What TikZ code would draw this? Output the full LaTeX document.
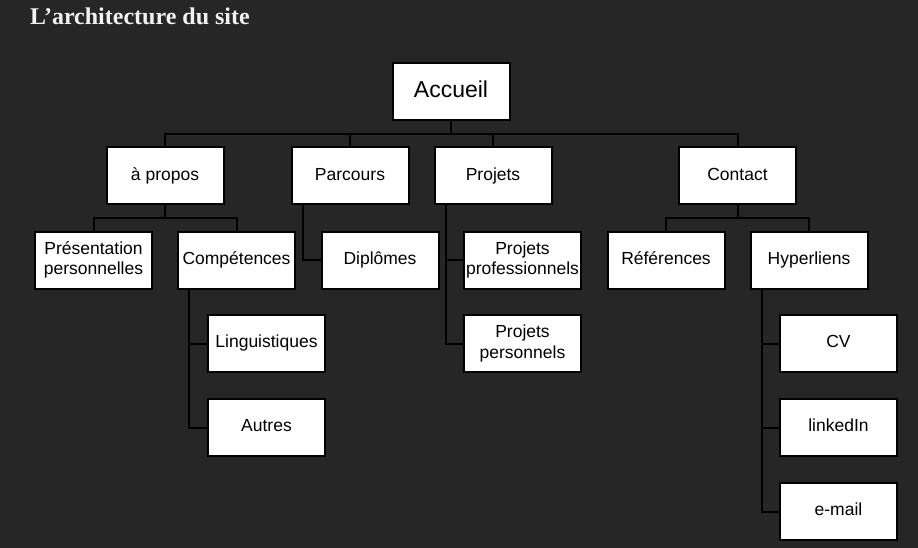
\documentclass[tikz,border=0pt]{standalone}
\usepackage{fontspec}
\setmainfont{Liberation Serif}
\newfontfamily\boxfont{Liberation Sans}
\usepackage{xcolor}
\usetikzlibrary{calc}
\definecolor{siteBack}{HTML}{262626}
\definecolor{siteLine}{HTML}{000000}
\definecolor{siteTitle}{HTML}{F2F2F2}
\tikzset{
  sitebox/.style={rectangle, draw=siteLine, fill=white, line width=2pt, align=center, font=\boxfont\fontsize{17.5}{20.7}\selectfont, minimum width=117pt, minimum height=57pt, inner sep=1pt},
  linebox/.style={sitebox, text height=12.5pt, text depth=3.7pt},
  rootbox/.style={sitebox, font=\boxfont\fontsize{23}{26}\selectfont, text height=16.5pt, text depth=4.8pt},
  sitelink/.style={draw=siteLine, line width=2pt, line cap=square},
  sitetitle/.style={font=\bfseries\fontsize{24}{27}\selectfont, text=siteTitle, anchor=base west, inner sep=0pt},
}

\begin{document}
\begin{tikzpicture}[x=1pt,y=-1pt]
      \fill[siteBack] (0,0) rectangle (918,548);
      \useasboundingbox (0,0) rectangle (918,548);

      \node[sitetitle] (title) at (30,25) {L’architecture du site};

      \node[rootbox] (accueil) at (451,91.5) {Accueil};

      \node[linebox] (apropos) at (165,176) {à propos};
      \node[linebox] (parcours) at (350,176) {Parcours};
      \node[linebox] (projets) at (493,176) {Projets};
      \node[linebox] (contact) at (737.5,176) {Contact};

      \node[sitebox] (presentation) at (93.5,260) {Présentation \\ personnelles};
      \node[linebox] (competences) at (236.5,260) {Compétences};
      \node[linebox] (diplomes) at (380,260) {Diplômes};
      \node[sitebox] (projpro) at (522.5,260) {Projets \\ professionnels};
      \node[linebox] (references) at (666,260) {Références};
      \node[linebox] (hyperliens) at (809,260) {Hyperliens};

      \node[linebox] (linguistiques) at (266.5,343.5) {Linguistiques};
      \node[linebox] (autres) at (266.5,427.5) {Autres};
      \node[sitebox] (projperso) at (522.5,343.5) {Projets \\ personnels};
      \node[linebox] (cv) at (838.5,343.5) {CV};
      \node[linebox] (linkedin) at (838.5,427.5) {linkedIn};
      \node[linebox] (email) at (838.5,511.5) {e-mail};

      % bus points
      \coordinate (topbus) at (451,134);
      \coordinate (aproposbus) at (165,218);
      \coordinate (contactbus) at (737.5,218);

      \draw[sitelink] (accueil.south) -- (topbus);
      \draw[sitelink] (topbus) -| (apropos.north);
      \draw[sitelink] (topbus) -| (parcours.north);
      \draw[sitelink] (topbus) -| (projets.north);
      \draw[sitelink] (topbus) -| (contact.north);

      \draw[sitelink] (apropos.south) -- (aproposbus);
      \draw[sitelink] (aproposbus) -| (presentation.north);
      \draw[sitelink] (aproposbus) -| (competences.north);

      \draw[sitelink] ([xshift=12pt]parcours.south west) |- (diplomes.west);

      \draw[sitelink] ([xshift=12pt]projets.south west) |- (projpro.west);
      \draw[sitelink] ([xshift=12pt]projets.south west) |- (projperso.west);

      \draw[sitelink] (contact.south) -- (contactbus);
      \draw[sitelink] (contactbus) -| (references.north);
      \draw[sitelink] (contactbus) -| (hyperliens.north);

      \draw[sitelink] ([xshift=12pt]competences.south west) |- (linguistiques.west);
      \draw[sitelink] ([xshift=12pt]competences.south west) |- (autres.west);

      \draw[sitelink] ([xshift=12pt]hyperliens.south west) |- (cv.west);
      \draw[sitelink] ([xshift=12pt]hyperliens.south west) |- (linkedin.west);
      \draw[sitelink] ([xshift=12pt]hyperliens.south west) |- (email.west);
    \end{tikzpicture}
\end{document}
